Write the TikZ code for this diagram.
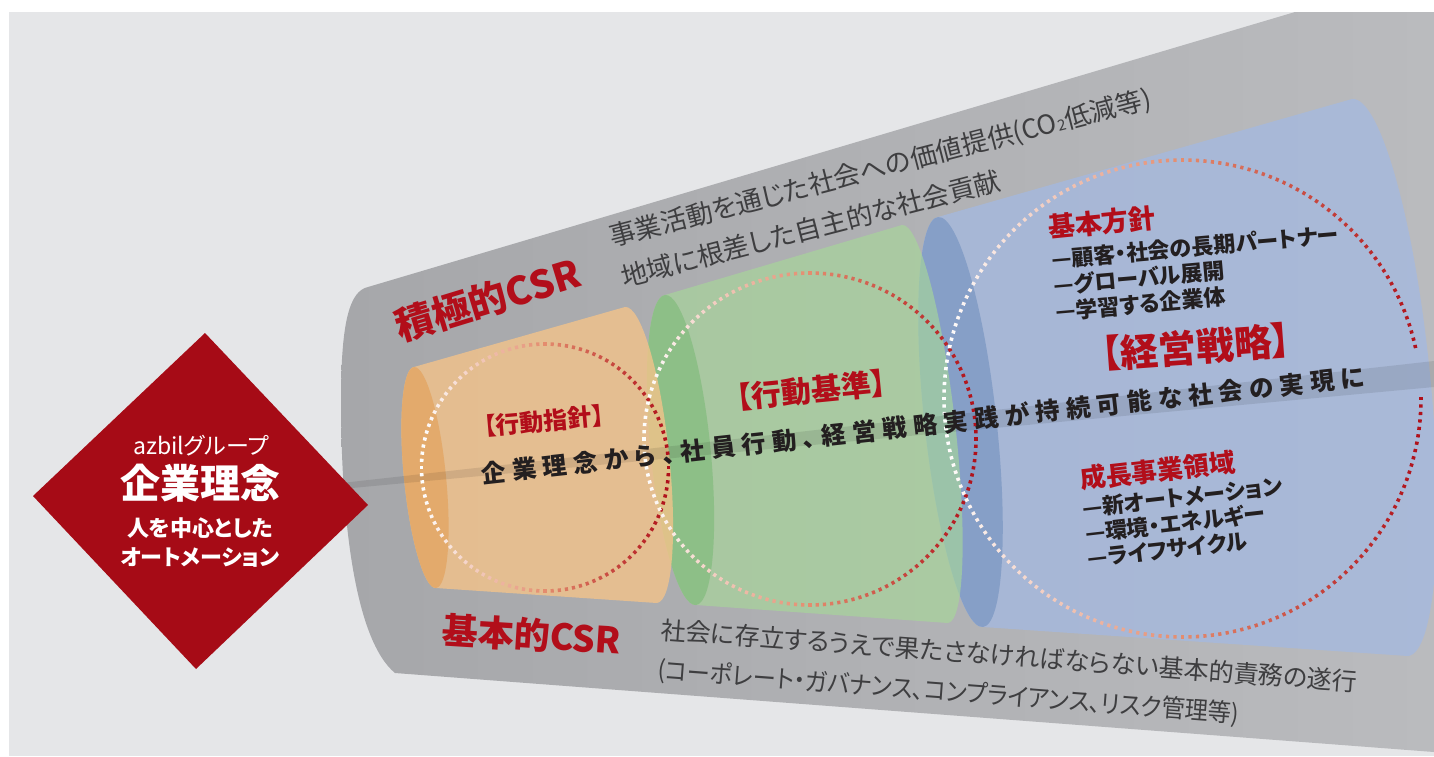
\documentclass[tikz,border=0pt]{standalone}
\usepackage{fontspec}
\setmainfont{Noto Sans CJK JP}[RawFeature=+palt]

\definecolor{bgpage}{RGB}{229,230,232}
\definecolor{funnelL}{RGB}{166,167,170}
\definecolor{funnelR}{RGB}{186,187,190}
\definecolor{azred}{RGB}{166,11,22}
\definecolor{labred}{RGB}{178,14,26}
\definecolor{greytext}{RGB}{62,62,64}
\definecolor{inktext}{RGB}{35,31,32}
\definecolor{orbody}{RGB}{243,195,138}
\definecolor{orface}{RGB}{227,170,108}
\definecolor{grbody}{RGB}{167,215,153}
\definecolor{grface}{RGB}{141,191,135}
\definecolor{blbody}{RGB}{164,185,225}
\definecolor{blface}{RGB}{134,159,199}

\newcommand\fs[1]{\fontsize{#1}{#1}\selectfont}
\makeatletter
\newcommand\spacedout[2]{\@tfor\sp@ch:=#2\do{\sp@ch\hspace{#1}}\unskip}
\makeatother

% dotted ring: centre x, centre y, radius, dot count, gap from, gap to (degrees)
\newcommand\dotring[6]{%
  \foreach \i in {1,...,#4}{%
    \pgfmathsetmacro\dotA{\i/#4*360}%
    \def\skipit{0}%
    \ifdim\dotA pt>#5pt \ifdim\dotA pt<#6pt \def\skipit{1}\fi\fi
    \ifnum\skipit=0
      \pgfmathsetmacro\dotU{(1+cos(\dotA))/2}%
      \ifdim\dotU pt<0.5pt
        \pgfmathtruncatemacro\dotR{255-54*\dotU}%
        \pgfmathtruncatemacro\dotG{255-230*\dotU}%
        \pgfmathtruncatemacro\dotB{255-290*\dotU}%
      \else
        \pgfmathtruncatemacro\dotR{280-104*\dotU}%
        \pgfmathtruncatemacro\dotG{264-248*\dotU}%
        \pgfmathtruncatemacro\dotB{194-168*\dotU}%
      \fi
      \definecolor{dotc}{RGB}{\dotR,\dotG,\dotB}%
      \pgfmathsetmacro\dotX{#1+#3*cos(\dotA)}%
      \pgfmathsetmacro\dotY{#2-#3*sin(\dotA)}%
      \fill[dotc, shift={(\dotX,\dotY)}, rotate=\dotA]
        (-1.8,-1.6) rectangle (1.8,1.6);%
    \fi
  }}

\begin{document}
\begin{tikzpicture}[x=1pt,y=-1pt,
  redlab/.style={inner sep=0, text=labred, font=\bfseries},
  greylab/.style={inner sep=0, text=greytext},
  inklab/.style={inner sep=0, text=inktext, font=\bfseries},
  whitelab/.style={inner sep=0, text=white}]

\useasboundingbox (0,0) rectangle (1434,756);
\fill[white] (0,0) rectangle (1434,756);
\fill[bgpage] (9,12) rectangle (1434,756);

% grey funnel
\shade[left color=funnelL, right color=funnelR]
  (1295,12) -- (1434,12) -- (1434,752) -- (395,673)
  .. controls (355,640) and (341,520) .. (341,400)
  .. controls (341,320) and (350,291) .. (368,287) -- cycle;

% blue cylinder
\fill[blbody, opacity=0.75] (938,217) -- (1352,99)
  .. controls (1379.5,96.2) and (1414.3,218.7) .. (1429.8,372.5)
  .. controls (1445.2,526.3) and (1435.5,653.2) .. (1408,656)
  -- (983,627)
  .. controls (963.2,629.2) and (937.1,539.1) .. (924.7,425.9)
  .. controls (912.3,312.7) and (918.2,219.2) .. (938,217) -- cycle;
\fill[blface, rotate around={6.26:(960.5,422)}] (960.5,422) ellipse[x radius=36, y radius=206.2];

% green cylinder
\fill[grbody, opacity=0.65] (665,295) -- (902,225)
  .. controls (918.5,223.1) and (942.1,310.7) .. (954.8,420.6)
  .. controls (967.5,530.5) and (964.5,621.1) .. (948,623)
  -- (696,605)
  .. controls (679.5,606.6) and (659.2,538.6) .. (650.65,453)
  .. controls (642.1,367.4) and (648.5,296.6) .. (665,295) -- cycle;
\fill[grface, rotate around={5.71:(680.5,450)}] (680.5,450) ellipse[x radius=30, y radius=155.8];

% orange cylinder
\fill[orbody, opacity=0.8] (414,367) -- (625,307)
  .. controls (640.4,305.3) and (660.0,369.8) .. (668.8,452.0)
  .. controls (677.6,534.2) and (672.4,601.3) .. (657,603)
  -- (436,588)
  .. controls (424.5,589.1) and (410.2,540.6) .. (404.1,479.6)
  .. controls (398.0,418.6) and (402.5,368.2) .. (414,367) -- cycle;
\fill[orface, rotate around={5.68:(425,477.5)}] (425,477.5) ellipse[x radius=21, y radius=111];

% axis band
\fill[black, opacity=0.09] (200,498.8) -- (1434,361) -- (1434,387) -- (200,502.2) -- cycle;

% dotted rings
\dotring{545}{467.5}{123.5}{108}{400}{400}
\dotring{810}{439}{166}{144}{400}{400}
\dotring{1182.5}{398.5}{238.5}{200}{0.5}{11}

% CSR headings and descriptions
\node[redlab, font=\bfseries\fs{38.5}, anchor=base west, rotate=17] (csrA) at (400,342) {積極的CSR};
\begin{scope}[shift={(612,247)}, rotate=14.5, transform shape]
  \node[greylab, font=\fs{26.5}, anchor=base west] (csrAa) at (0,0) {事業活動を通じた社会への価値提供(CO{\fs{15}2}低減等)};
  \node[greylab, font=\fs{26.5}, anchor=base west] (csrAb) at (1.6,42) {地域に根差した自主的な社会貢献};
\end{scope}

\node[redlab, font=\bfseries\fs{36}, anchor=base west, rotate=-3.5] (csrB) at (441,643) {基本的CSR};
\begin{scope}[shift={(660,639)}, rotate=-4.3, transform shape]
  \node[greylab, font=\fs{25}, anchor=base west] (csrBa) at (0,0) {社会に存立するうえで果たさなければならない基本的責務の遂行};
  \node[greylab, font=\fs{25}, anchor=base west] (csrBb) at (0,40) {\scalebox{0.93}[1]{(コーポレート・ガバナンス、コンプライアンス、リスク管理等)}};
\end{scope}

% cylinder titles
\node[redlab, font=\bfseries\fs{24}, rotate=5] (shishin) at (544,421) {【行動指針】};
\node[redlab, font=\bfseries\fs{30}, rotate=5.6] (kijun) at (811,390) {【行動基準】};
\node[redlab, font=\bfseries\fs{38}, rotate=4.2] (senryaku) at (1196,347) {【経営戦略】};

% main sentence along the axis
\node[inklab, font=\bfseries\fs{24.5}, rotate=6.3] (axis) at (923,425)
  {\spacedout{6.3pt}{企業理念から、社員行動、経営戦略実践が持続可能な社会の実現に}};

% policy list
\node[redlab, font=\bfseries\fs{27}, anchor=base west, rotate=5.6] (hoshin) at (1049,238) {基本方針};
\begin{scope}[shift={(1052,268)}, rotate=5, transform shape]
  \node[inklab, font=\bfseries\fs{22}, anchor=base west] (h1) at (0,0) {—顧客・社会の長期パートナー};
  \node[inklab, font=\bfseries\fs{22}, anchor=base west] (h2) at (0,26) {—グローバル展開};
  \node[inklab, font=\bfseries\fs{22}, anchor=base west] (h3) at (0,52) {—学習する企業体};
\end{scope}

% growth domains
\node[redlab, font=\bfseries\fs{26}, anchor=base west, rotate=6.5] (ryoiki) at (1081,489) {成長事業領域};
\begin{scope}[shift={(1083,517)}, rotate=6.5, transform shape]
  \node[inklab, font=\bfseries\fs{22}, anchor=base west] (g1) at (0,0) {—新オートメーション};
  \node[inklab, font=\bfseries\fs{22}, anchor=base west] (g2) at (0,25) {—環境・エネルギー};
  \node[inklab, font=\bfseries\fs{22}, anchor=base west] (g3) at (0,50) {—ライフサイクル};
\end{scope}

% philosophy diamond
\fill[azred] (205,333) -- (368,505) -- (196,669) -- (33,496) -- cycle;
\node[whitelab, font=\fs{23}] (grp) at (201,446) {azbilグループ};
\node[whitelab, font=\bfseries\fs{40}] (rinen) at (200,483) {企業理念};
\node[whitelab, font=\bfseries\fs{22}] (hito) at (200,528) {人を中心とした};
\node[whitelab, font=\bfseries\fs{22}] (auto) at (200,557) {オートメーション};

\end{tikzpicture}
\end{document}
